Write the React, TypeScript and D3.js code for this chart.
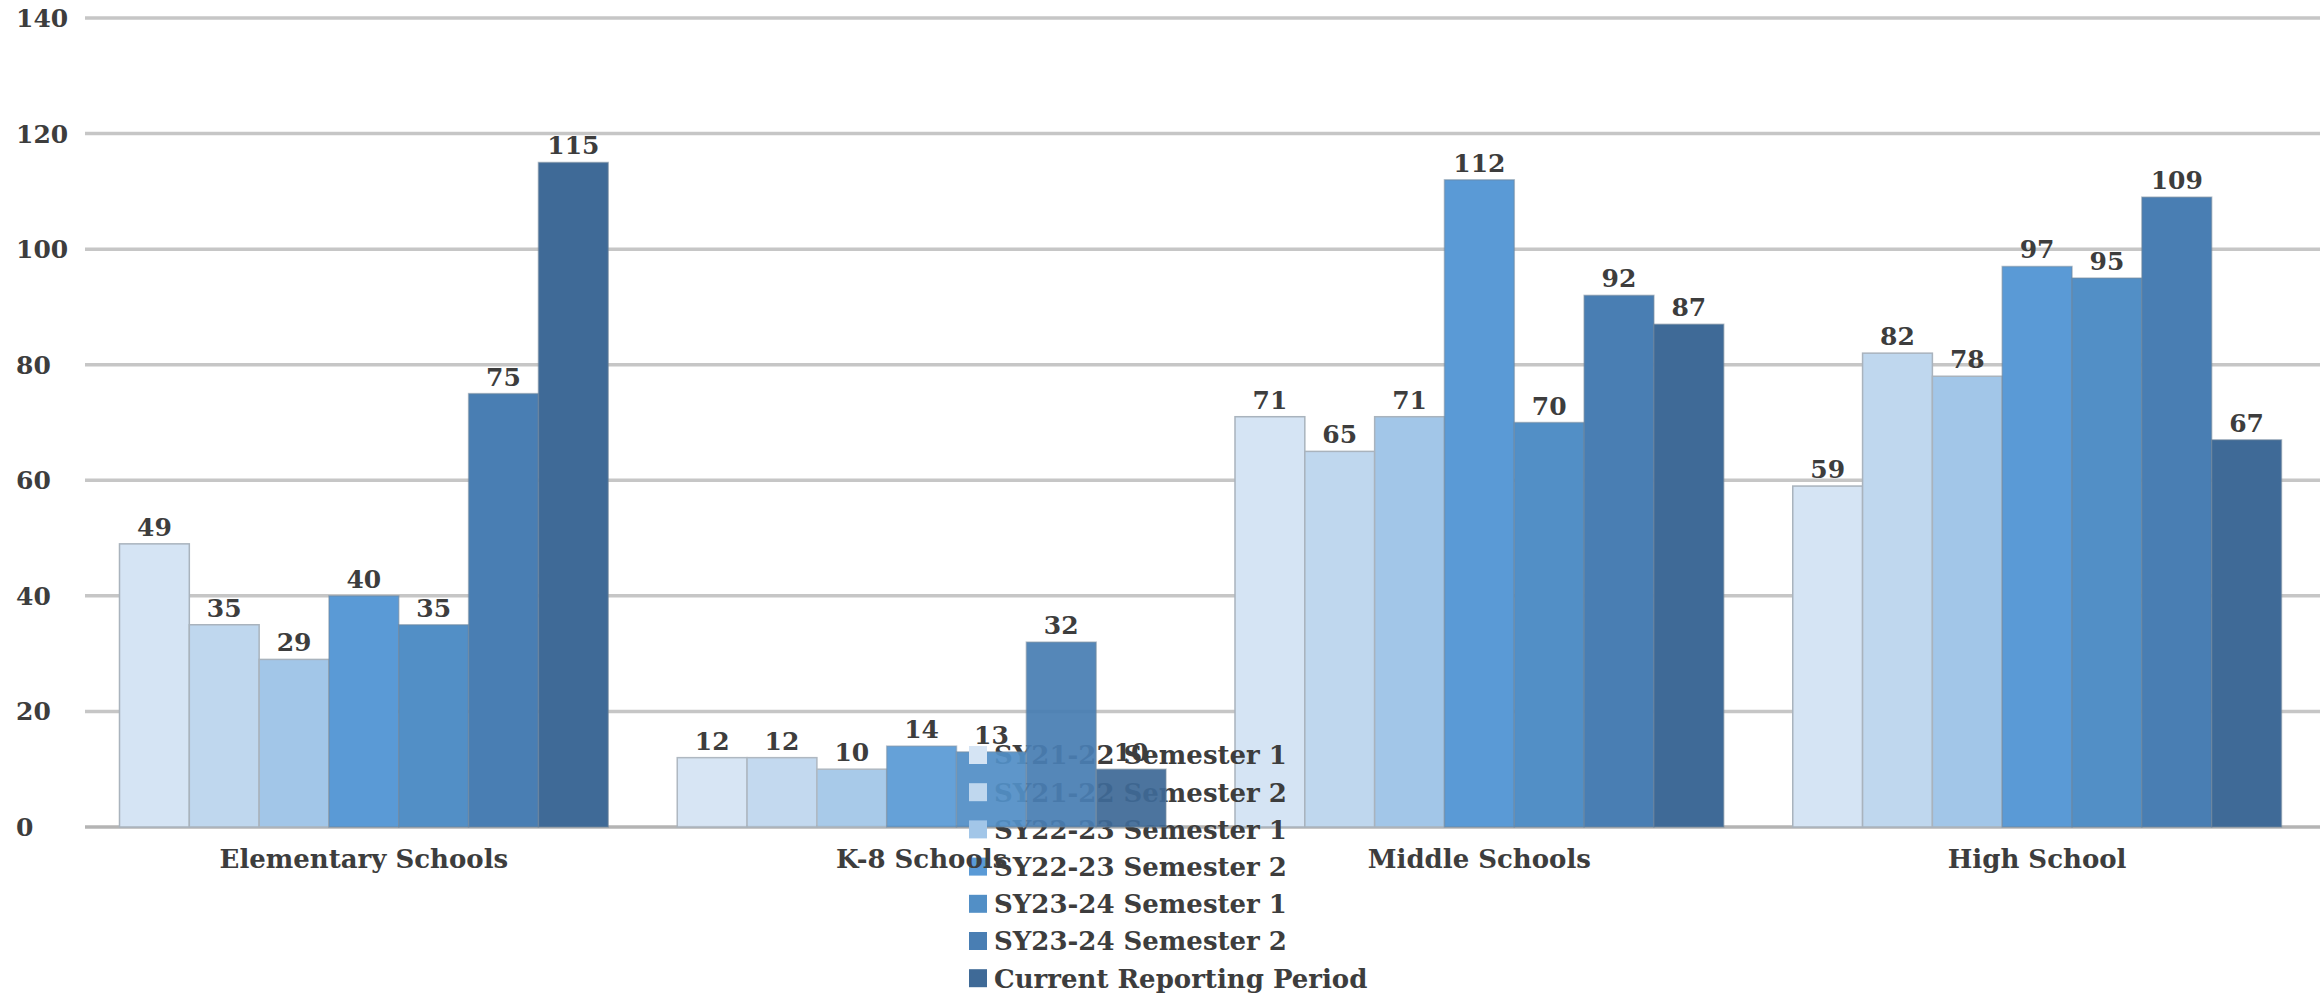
import React from "react";
import * as d3 from "d3";

const categories = ["Elementary Schools", "K-8 Schools", "Middle Schools", "High School"];
const seriesNames = [
  "SY21-22 Semester 1",
  "SY21-22 Semester 2",
  "SY22-23 Semester 1",
  "SY22-23 Semester 2",
  "SY23-24 Semester 1",
  "SY23-24 Semester 2",
  "Current Reporting Period",
];
const sy2122s1 = [49, 12, 71, 59];
const sy2122s2 = [35, 12, 65, 82];
const sy2223s1 = [29, 10, 71, 78];
const sy2223s2 = [40, 14, 112, 97];
const sy2324s1 = [35, 13, 70, 95];
const sy2324s2 = [75, 32, 92, 109];
const current = [115, 10, 87, 67];
const seriesValues = [sy2122s1, sy2122s2, sy2223s1, sy2223s2, sy2324s1, sy2324s2, current];
const colors = ["#d5e4f4", "#bfd7ee", "#a2c6e8", "#5a9ad6", "#528fc6", "#497eb3", "#3f6a97"];
const yTicks = [0, 20, 40, 60, 80, 100, 120, 140];

const W = 2323;
const H = 996;
const FONT = "'DejaVu Serif', serif";
const TEXT = "#3d3d3d";

export default function App() {
  const x0 = d3.scaleBand<string>().domain(categories).range([85, 2316]).paddingInner(0.1237).paddingOuter(0.06185);
  const x1 = d3.scaleBand<string>().domain(seriesNames).range([0, x0.bandwidth()]).padding(0);
  const y = d3.scaleLinear().domain([0, 140]).range([827, 18]);

  const legendX = 969;
  const legendY0 = 755;
  const legendStep = 37.2;

  const barGroup = (ci: number, opacity = 1) => {
    const c = categories[ci];
    return (
      <g key={c} transform={`translate(${x0(c)},0)`} opacity={opacity}>
        {seriesNames.map((s, si) => {
          const v = seriesValues[si][ci];
          return (
            <rect
              key={s}
              x={x1(s)}
              y={y(v)}
              width={x1.bandwidth()}
              height={y(0) - y(v)}
              fill={colors[si]}
              stroke={si < 3 ? "#a9b3bd" : "#6f8599"}
              strokeOpacity={si < 3 ? 1 : 0.5}
              strokeWidth={1.5}
            />
          );
        })}
      </g>
    );
  };

  return (
    <svg width={W} height={H} style={{ position: "absolute", left: 0, top: 0, background: "#fff" }}>
      <rect x={0} y={0} width={W} height={H} fill="#fff" />
      {yTicks.map((t) => (
        <g key={t}>
          <line x1={85} x2={2320} y1={y(t)} y2={y(t)} stroke={t === 0 ? "#b4b4b4" : "#c6c6c6"} strokeWidth={3.5} />
          <text x={16} y={y(t)} dy="0.36em" fontFamily={FONT} fontWeight="bold" fontSize={25} fill={TEXT}>
            {t}
          </text>
        </g>
      ))}
      {[0, 2, 3].map((ci) => barGroup(ci))}
      {/* legend text: above the neighbouring groups, partly hidden by the K-8 bars as in the reference */}
      {seriesNames.map((s, i) => (
        <text key={s} x={legendX + 25} y={legendY0 + i * legendStep} dy="0.36em" fontFamily={FONT} fontWeight="bold" fontSize={26} fill={TEXT}>
          {s}
        </text>
      ))}
      {barGroup(1, 0.93)}
      {seriesNames.map((s, i) => (
        <rect key={s} x={legendX} y={legendY0 + i * legendStep - 9} width={18} height={18} fill={colors[i]} />
      ))}
      {categories.map((c, ci) => (
        <g key={c} transform={`translate(${x0(c)},0)`}>
          {seriesNames.map((s, si) => {
            const v = seriesValues[si][ci];
            return (
              <text
                key={s}
                x={(x1(s) as number) + x1.bandwidth() / 2}
                y={y(v) - 8}
                textAnchor="middle"
                fontFamily={FONT}
                fontWeight="bold"
                fontSize={25}
                fill={TEXT}
              >
                {v}
              </text>
            );
          })}
          <text x={x0.bandwidth() / 2} y={859} dy="0.36em" textAnchor="middle" fontFamily={FONT} fontWeight="bold" fontSize={26} fill={TEXT}>
            {c}
          </text>
        </g>
      ))}
    </svg>
  );
}
